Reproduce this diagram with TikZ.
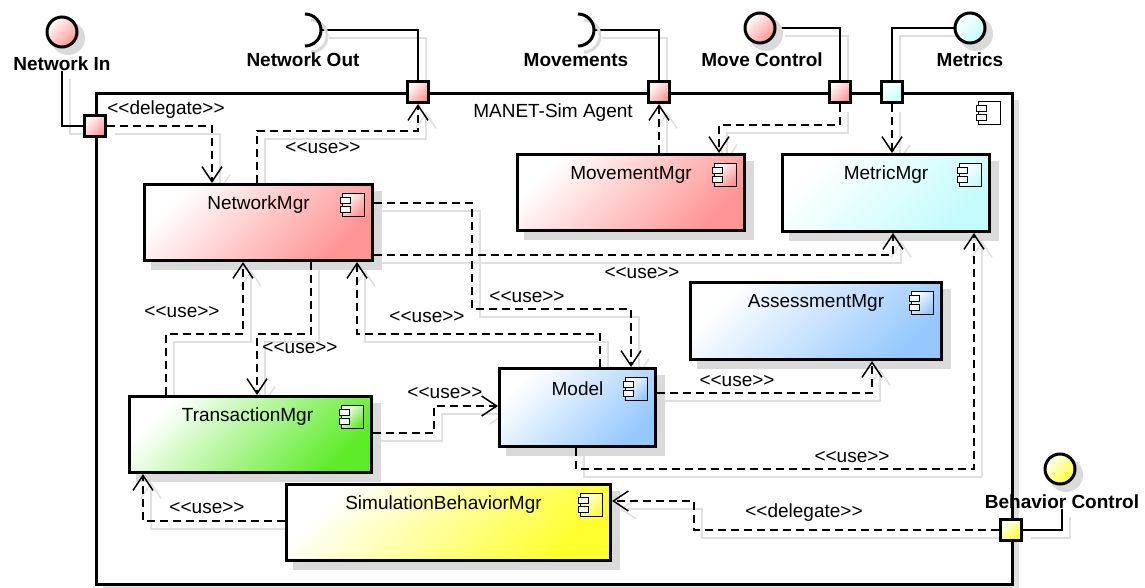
\documentclass[tikz,border=0pt]{standalone}
\usepackage{fontspec}
\setmainfont[Ligatures=TeXOff]{Liberation Sans}
\usetikzlibrary{arrows.meta,calc}
\pgfdeclarelayer{bg}\pgfdeclarelayer{boxsh}\pgfdeclarelayer{connsh}\pgfdeclarelayer{conn}
\pgfsetlayers{bg,boxsh,connsh,conn,main}
\definecolor{cred}{HTML}{FF9494}
\definecolor{ccyan}{HTML}{C4FBFB}
\definecolor{cblue}{HTML}{96C8FF}
\definecolor{cgreen}{HTML}{5EEB2A}
\definecolor{cyellow}{HTML}{FFFF2E}
\definecolor{shgray}{HTML}{DADADA}
\definecolor{lshgray}{HTML}{E0E0E0}
\tikzset{
 txt/.style={font=\fontsize{19}{22}\selectfont, inner sep=0pt},
 btxt/.style={font=\fontsize{19}{22}\selectfont\bfseries, inner sep=0pt},
 comp/.style={draw=black, line width=3pt, anchor=north west, inner sep=0pt, top color=white, bottom color=#1, shading angle=45},
 port/.style={draw=black, line width=3pt, minimum size=21pt, inner sep=0pt, top color=white, bottom color=#1, shading angle=45},
 iface/.style={circle, draw=black, line width=3pt, minimum size=30pt, inner sep=0pt, top color=white, bottom color=#1, shading angle=45},
 dep/.style={draw=black, line width=1.5pt, dash pattern=on 8pt off 5pt, -{Straight Barb[length=15pt,width=20pt]}},
 depsh/.style={draw=lshgray, line width=1.5pt, -{Straight Barb[length=15pt,width=20pt]}, transform canvas={shift={(8pt,-8pt)}}},
 ifl/.style={draw=black, line width=1.5pt},
 iflsh/.style={draw=lshgray, line width=1.5pt, transform canvas={shift={(8pt,-8pt)}}},
 compicon/.pic={
   \draw[line width=1pt, top color=white, bottom color=#1, shading angle=45] (-11,-11.5) rectangle (11,11.5);
   \draw[line width=1pt, fill=white] (-13,-7.5) rectangle (-3,-1.5);
   \draw[line width=1pt, fill=white] (-13,1.5) rectangle (-3,7.5);
 },
}
\newcommand\dep[1]{%
 \begin{pgfonlayer}{connsh}\draw[depsh] #1;\end{pgfonlayer}%
 \begin{pgfonlayer}{conn}\draw[dep] #1;\end{pgfonlayer}}
\newcommand\ifline[1]{%
 \begin{pgfonlayer}{connsh}\draw[iflsh] #1;\end{pgfonlayer}%
 \begin{pgfonlayer}{conn}\draw[ifl] #1;\end{pgfonlayer}}
\begin{document}
\begin{tikzpicture}[x=1pt,y=-1pt]
\useasboundingbox (0,0) rectangle (1145,588);
% frame
\begin{pgfonlayer}{bg}
 \fill[lshgray] (103,100) rectangle (1019,591);
 \node[draw=black, line width=3pt, fill=white, anchor=north west, minimum width=916pt, minimum height=491pt, inner sep=0pt] (agent) at (95,92) {};
\end{pgfonlayer}
\node[txt] (agentT) at (553,113) {MANET-Sim Agent};
\pic at (989,113) {compicon=white};

% components
\node[comp=cred, minimum width=228pt, minimum height=76pt] (nm) at (143,183) {};
\node[comp=cred, minimum width=227pt, minimum height=76pt] (mm) at (516,153) {};
\node[comp=ccyan, minimum width=207pt, minimum height=77pt] (mt) at (781,153) {};
\node[comp=cblue, minimum width=251pt, minimum height=77pt] (am) at (689,281) {};
\node[comp=cblue, minimum width=156pt, minimum height=78pt] (md) at (498,367) {};
\node[comp=cgreen, minimum width=242pt, minimum height=76pt] (tm) at (128,395) {};
\node[comp=cyellow, minimum width=324pt, minimum height=76pt] (sb) at (285,483) {};
\begin{pgfonlayer}{boxsh}
\foreach \b in {nm,mm,mt,am,md,tm,sb}
  \fill[shgray] ([shift={(8pt,-8pt)}]\b.south west) rectangle ([shift={(8pt,-8pt)}]\b.north east);
\end{pgfonlayer}
\node[txt] (nmT) at ([yshift=-22pt]nm.north) {NetworkMgr};
\node[txt] (mmT) at ([yshift=-22pt]mm.north) {MovementMgr};
\node[txt] (mtT) at ([yshift=-22pt]mt.north) {MetricMgr};
\node[txt] (amT) at ([yshift=-22pt]am.north) {AssessmentMgr};
\node[txt] (mdT) at ([yshift=-22pt]md.north) {Model};
\node[txt] (tmT) at ([shift={(-3pt,-22pt)}]tm.north) {TransactionMgr};
\node[txt] (sbT) at ([shift={(-5pt,-22pt)}]sb.north) {SimulationBehaviorMgr};
\foreach \b/\c in {nm/cred,mm/cred,mt/ccyan,am/cblue,md/cblue,tm/cgreen,sb/cyellow}
  \pic at ([shift={(-21pt,-22pt)}]\b.north east) {compicon=\c};

% ports
\node[port=cred] (pNI) at (95,126) {};
\node[port=cred] (pNO) at (418,92) {};
\node[port=cred] (pMV) at (659,92) {};
\node[port=cred] (pMC) at (840,92) {};
\node[port=ccyan] (pMT) at (892,92) {};
\node[port=cyellow] (pBC) at (1011,530) {};

% provided interfaces
\foreach \p in {(62,32),(760,28),(970,28),(1060,469)}
  \fill[shgray] \p ++(6pt,-6pt) circle[radius=17pt];
\node[iface=cred] (ni) at (62,32) {};
\node[iface=cred] (mc) at (760,28) {};
\node[iface=ccyan] (mtI) at (970,28) {};
\node[iface=cyellow] (bc) at (1060,469) {};
% required interfaces
\draw[shgray, line width=3pt] (311,20) .. controls (319.8,20) and (327,27.2) .. (327,36) .. controls (327,44.8) and (319.8,52) .. (311,52);
\draw[black, line width=3pt] (305,14) .. controls (313.8,14) and (321,21.2) .. (321,30) .. controls (321,38.8) and (313.8,46) .. (305,46);
\coordinate (noR) at (321,30);
\draw[shgray, line width=3pt] (584,20) .. controls (592.8,20) and (600,27.2) .. (600,36) .. controls (600,44.8) and (592.8,52) .. (584,52);
\draw[black, line width=3pt] (578,14) .. controls (586.8,14) and (594,21.2) .. (594,30) .. controls (594,38.8) and (586.8,46) .. (578,46);
\coordinate (mvR) at (594,30);

\node[btxt] (niL) at (62,64) {Network In};
\node[btxt] (noL) at (303,60) {Network Out};
\node[btxt] (mvL) at (576,60) {Movements};
\node[btxt] (mcL) at (762,60) {Move Control};
\node[btxt] (mtL) at (970,60) {Metrics};
\node[btxt] (bcL) at (1062,502) {Behavior Control};

% interface lines
\ifline{(niL.south) |- (pNI.west)}
\ifline{(noR) -| (pNO.north)}
\ifline{(mvR) -| (pMV.north)}
\ifline{(mc.east) -| (pMC.north)}
\ifline{(mtI.west) -| (pMT.north)}
\ifline{(pBC.east) -| (bcL.south)}

% dependencies
\dep{(pNI.east) -| (212,0 |- nm.north)}
\dep{(257,0 |- nm.north) |- (418,131) -- (pNO.south)}
\dep{(pMV.south |- mm.north) -- (pMV.south)}
\dep{(pMC.south) |- (719,125) -- (719,0 |- mm.north)}
\dep{(pMT.south) -- (pMT.south |- mt.north)}
\dep{(nm.east |- 0,203) -| (472,309) -| (631,0 |- md.north)}
\dep{(nm.east |- 0,255) -| (893,0 |- mt.south)}
\dep{(600,0 |- md.north) |- (357,334) -- (357,0 |- nm.south)}
\dep{(166,0 |- tm.north) |- (243,334) -- (243,0 |- nm.south)}
\dep{(311,0 |- nm.south) |- (257,334) -- (257,0 |- tm.north)}
\dep{(tm.east |- 0,433) -| (434,406) -- (md.west |- 0,406)}
\dep{(md.east |- 0,393) -| (872,0 |- am.south)}
\dep{(576,0 |- md.south) |- (974,469) -- (974,0 |- mt.south)}
\dep{(sb.west |- 0,521) -| (143,0 |- tm.south)}
\dep{(pBC.west) -| (694,501) -- (sb.east |- 0,501)}

% labels
\node[txt] (l1) at (166,110) {<<delegate>>};
\node[txt] (l2) at (323,148) {<<use>>};
\node[txt] (l6) at (527,297) {<<use>>};
\node[txt] (l7) at (642,273) {<<use>>};
\node[txt] (l8) at (427,317) {<<use>>};
\node[txt] (l9) at (182,312) {<<use>>};
\node[txt] (l10) at (300,348) {<<use>>};
\node[txt] (l11) at (445,393) {<<use>>};
\node[txt] (l12) at (737,381) {<<use>>};
\node[txt] (l13) at (852,457) {<<use>>};
\node[txt] (l14) at (207,508) {<<use>>};
\node[txt] (l15) at (804,513) {<<delegate>>};
\end{tikzpicture}
\end{document}
